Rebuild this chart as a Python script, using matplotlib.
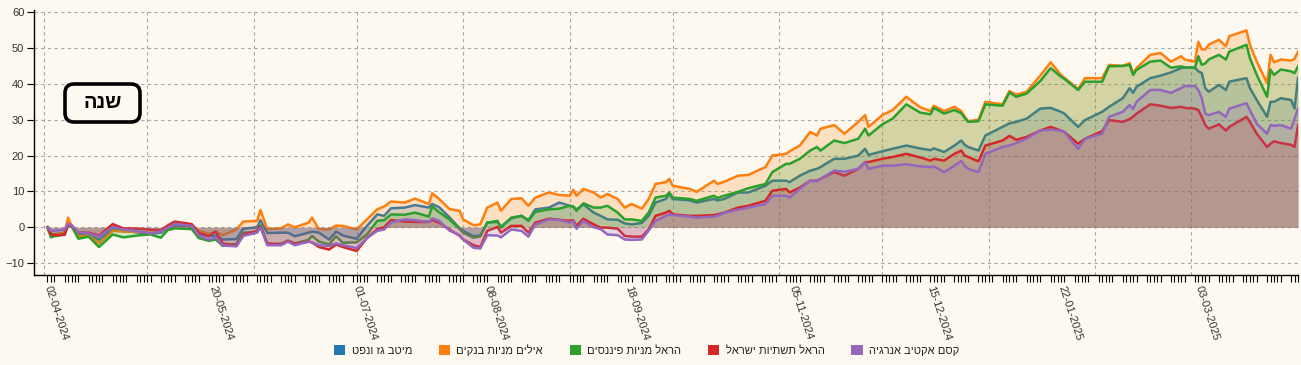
import matplotlib
matplotlib.use('Agg')
import matplotlib.pyplot as plt
import matplotlib.dates as mdates
from matplotlib.patches import Patch, FancyBboxPatch
from matplotlib.transforms import IdentityTransform
from matplotlib.ticker import FixedLocator
import pandas as pd

plt.rcParams['font.family'] = ['Liberation Sans', 'DejaVu Sans']

# ---------------- data ----------------
dates = [
    '2024-04-02', '2024-04-03', '2024-04-04', '2024-04-07', '2024-04-08', '2024-04-09', '2024-04-11',
    '2024-04-14', '2024-04-17', '2024-04-21', '2024-04-24', '2024-04-29', '2024-05-02', '2024-05-05',
    '2024-05-07', '2024-05-09', '2024-05-14', '2024-05-16', '2024-05-19', '2024-05-21', '2024-05-23',
    '2024-05-27', '2024-05-29', '2024-06-02', '2024-06-03', '2024-06-05', '2024-06-09', '2024-06-11',
    '2024-06-13', '2024-06-17', '2024-06-18', '2024-06-20', '2024-06-23', '2024-06-25', '2024-06-27',
    '2024-07-01', '2024-07-04', '2024-07-07', '2024-07-09', '2024-07-11', '2024-07-15', '2024-07-18',
    '2024-07-22', '2024-07-23', '2024-07-25', '2024-07-28', '2024-07-31', '2024-08-01', '2024-08-04',
    '2024-08-06', '2024-08-08', '2024-08-11', '2024-08-12', '2024-08-15', '2024-08-18', '2024-08-20',
    '2024-08-22', '2024-08-26', '2024-08-29', '2024-09-01', '2024-09-02', '2024-09-03', '2024-09-05',
    '2024-09-08', '2024-09-10', '2024-09-12', '2024-09-15', '2024-09-17', '2024-09-19', '2024-09-22',
    '2024-09-24', '2024-09-26', '2024-09-29', '2024-09-30', '2024-10-01', '2024-10-06', '2024-10-08',
    '2024-10-13', '2024-10-14', '2024-10-16', '2024-10-20', '2024-10-23', '2024-10-28', '2024-10-30',
    '2024-11-03', '2024-11-04', '2024-11-07', '2024-11-10', '2024-11-12', '2024-11-13', '2024-11-17',
    '2024-11-20', '2024-11-24', '2024-11-26', '2024-11-27', '2024-12-01', '2024-12-04', '2024-12-08',
    '2024-12-12', '2024-12-15', '2024-12-16', '2024-12-19', '2024-12-22', '2024-12-24', '2024-12-25',
    '2024-12-26', '2024-12-29', '2024-12-31', '2025-01-05', '2025-01-07', '2025-01-09', '2025-01-12',
    '2025-01-16', '2025-01-19', '2025-01-22', '2025-01-23', '2025-01-27', '2025-01-29', '2025-02-03',
    '2025-02-05', '2025-02-09', '2025-02-11', '2025-02-12', '2025-02-13', '2025-02-17', '2025-02-20',
    '2025-02-23', '2025-02-26', '2025-02-27', '2025-03-02', '2025-03-03', '2025-03-04', '2025-03-05',
    '2025-03-06', '2025-03-09', '2025-03-11', '2025-03-12', '2025-03-17', '2025-03-18', '2025-03-20',
    '2025-03-23', '2025-03-24', '2025-03-25', '2025-03-27', '2025-03-30', '2025-03-31', '2025-04-01',
]

series_names = ['מיטב גז ונפט', 'אילים מניות בנקים', 'הראל מניות פיננסים',
                'הראל תשתיות ישראל', 'קסם אקטיב אנרגיה']

meitav_gas = [
    0, -1.8, -2, -1.5, 0.8, 0.5, -2, -1.9, -3.5, -0.5, -1, -1.5, -1.8, -1.5,
    -0.4, 0.5, 0.3, -1.8, -2.5, -2.3, -3.4, -3.3, -0.4, 0, 2, -1.6, -1.5, -1.5,
    -2.5, -1.5, -1.2, -1.5, -3.4, -1.2, -2.3, -3.2, 0.4, 3.6, 3.2, 5.3, 5.5, 6.2,
    5.5, 6.5, 5.6, 2.8, -0.3, -1, -2.5, -2.3, 1.3, 1.5, 0.2, 2.5, 3.2, 2,
    5, 5.5, 6.9, 6, 5.8, 5, 6.4, 4.1, 3.2, 2.2, 2.1, 1.1, 0.8, 1.2,
    3.2, 6.9, 7.9, 9.3, 7.9, 7.5, 6.9, 7.9, 7.5, 7.9, 9.7, 9.7, 11.6, 13,
    13, 12.6, 14.4, 15.8, 16.3, 16.8, 19.1, 19.1, 20, 21.9, 20.2, 21.2, 21.9, 22.8,
    22, 21.5, 22, 21, 22.8, 24.2, 23, 22.4, 21.4, 25.6, 28, 29, 29.4, 30.3,
    33.1, 33.3, 32.2, 31.7, 28, 29.9, 32.2, 33.6, 36, 38.8, 37.5, 39.2, 41.6, 42.3,
    43.2, 44.4, 44.6, 44.5, 43.5, 43, 38.8, 37.8, 39.7, 38.3, 40.6, 41.6, 38.8, 35.5,
    30.8, 35, 35, 36, 35.5, 33.1, 41.6,
]

ayalim_banks = [
    0, -2, -2.2, -1.5, 2.7, 0.5, -2.5, -2.3, -4.5, -1, -1.2, -1.3, -1.5, -1.2,
    -0.2, 1.2, 0.6, -1, -1.8, -1.2, -2.2, -0.6, 1.6, 1.8, 4.8, -0.5, -0.3, 0.8,
    0, 1.3, 2.7, -0.5, -0.6, 0.5, 0.4, -0.6, 2.2, 5, 5.8, 7.2, 6.9, 8,
    6.5, 9.5, 7.9, 5.1, 4.6, 2.2, 0.6, 0.8, 5.5, 6.9, 4.6, 7.9, 8.1, 6,
    8.3, 9.7, 9, 8.8, 10.5, 8.8, 10.7, 9.7, 8.3, 9.3, 7.9, 5.5, 6.5, 5.2,
    7.9, 12.1, 12.6, 13.5, 11.6, 10.7, 9.9, 13, 12.1, 12.7, 14.4, 14.6, 16.8, 20,
    20.5, 21.2, 22.8, 26.6, 25.6, 27.5, 28.5, 26.1, 29.4, 31.3, 28, 31.3, 32.7, 36.4,
    33.5, 32.4, 33.9, 32.4, 33.6, 32.4, 30.8, 29.6, 30, 35, 34.3, 38, 37, 37.8,
    42.3, 46, 42.5, 41.7, 38.6, 41.6, 41.6, 45.3, 45, 45.8, 43, 44.4, 48.1, 48.6,
    46.2, 47.7, 46.8, 46.2, 51.7, 49.6, 49.6, 50.9, 52.3, 50.5, 53.3, 54.9, 50.9, 46.2,
    40.2, 48.1, 46, 46.8, 46.5, 47, 49,
]

harel_finance = [
    0, -2.8, -2.5, -2, 1, 0.3, -3.2, -2.6, -5.5, -2, -2.8, -2.2, -2, -2.9,
    -0.8, -0.3, -0.5, -3, -3.8, -3.4, -5.2, -4.6, -1.5, -1.3, 0.5, -4.8, -4.6, -3.8,
    -4.5, -3.5, -2.4, -4, -4.8, -2.5, -4.3, -4.2, -2, 1.8, 2, 3.6, 3.5, 4.1,
    3, 5.8, 4.2, 2.2, -0.5, -1.5, -2.9, -2.5, 1.3, 1.8, -0.1, 2.7, 3.2, 1.8,
    4.3, 5, 5.2, 6, 5.8, 4.6, 6.7, 5.5, 5.5, 6, 4.1, 2.2, 2.2, 1.8,
    4.1, 8.3, 8.8, 9.7, 8.3, 7.9, 7.4, 8.8, 8.2, 8.8, 9.9, 10.9, 12.1, 15.4,
    17.7, 17.7, 19.1, 21.4, 22.4, 21.4, 24.2, 23.5, 24.7, 27.5, 25.6, 28.7, 30.3, 34.3,
    32, 31.5, 33.3, 31.7, 32.7, 31.8, 30.5, 29.4, 29.6, 34.3, 33.9, 37.6, 36.4, 37.3,
    40.8, 44.4, 42, 41.4, 38.3, 40.6, 40.6, 44.9, 45, 45.3, 42.5, 43.9, 46.2, 46.5,
    44.5, 44.9, 44.6, 44.5, 47.7, 45.3, 45.7, 46.8, 48.1, 46.8, 49, 50.9, 47.2, 42.5,
    36.4, 44, 42.5, 44, 43.5, 43, 44.9,
]

harel_infra = [
    0, -2, -2.2, -2.1, 0.6, 0.5, -1.5, -1.5, -2.3, 0.9, -0.3, -0.4, -0.7, -0.8,
    0.5, 1.6, 0.9, -1.5, -2.5, -1.2, -4.5, -5, -2, -1, 0.3, -4.5, -4.7, -3.7,
    -4.6, -4, -4.2, -5.5, -6.2, -4.8, -5.5, -6.6, -3, -0.5, 0, 2, 1.6, 1.5,
    1.5, 2, 1.3, -0.6, -2.4, -3.4, -5, -5.5, -1, 0.1, -1.5, 0.4, 0.4, -1.5,
    1.3, 2.4, 2.1, 1.8, 2, 0.4, 2.4, 0.8, -0.1, -0.1, -0.4, -2.4, -2.6, -2.6,
    -0.6, 3.2, 4.1, 4.6, 3.6, 3.2, 3.2, 3.4, 3.6, 4.1, 5.5, 6, 7.4, 10.2,
    10.7, 9.7, 11.1, 13, 13, 13.5, 15.4, 14.4, 16.3, 18.2, 18.2, 19.1, 19.6, 20.5,
    19.5, 18.6, 19.1, 18.6, 20.5, 21.4, 20, 19.6, 18.4, 22.8, 24.2, 25.5, 24.4, 25.2,
    27, 28, 27, 26.6, 23.3, 24.7, 26.8, 29.9, 29.4, 30.2, 30.8, 31.7, 34.3, 33.9,
    33.3, 33.6, 33.3, 33.1, 32.7, 30.8, 28.5, 27.5, 28.7, 27, 28, 30.8, 29.4, 26.1,
    22.4, 23.3, 24, 23.5, 23, 22.4, 28.5,
]

kesem_energy = [
    0, -0.9, -1, -0.6, 1, 0.6, -1.4, -1.7, -2.6, 0.1, -0.6, -1.2, -1.7, -1.2,
    -0.1, 1, 0.4, -2.3, -3.5, -2.8, -5.1, -5.3, -2.4, -1.5, 0, -5, -5, -4,
    -5, -4, -4.2, -5, -5.2, -4.5, -5, -5.8, -3, -1, -0.6, 1.4, 2.2, 2,
    1.5, 2.5, 1.8, -0.9, -2.2, -3.4, -5.7, -5.9, -2.2, -2.3, -2.8, -0.6, -1, -2.6,
    0.8, 2.2, 2.1, 1.3, 1.8, -0.4, 1.8, 0, -0.5, -2, -2.2, -3.4, -3.5, -3.4,
    -0.9, 1.8, 3.2, 3.6, 3.4, 3, 2.7, 3, 3.2, 4.1, 4.9, 5.5, 6.5, 8.8,
    8.8, 8.3, 10.7, 13, 12.8, 13.5, 15.8, 15.5, 16.3, 18.2, 16.3, 17.2, 17.2, 17.6,
    17, 16.8, 17, 15.4, 17.2, 18.5, 17.2, 16.3, 15.4, 20.5, 22.4, 22.8, 23.5, 24.7,
    27, 27.2, 27, 26.6, 21.9, 24.7, 26.1, 30.8, 32.2, 34.1, 33, 35, 38.3, 38.3,
    37.5, 38.8, 39.4, 39.4, 38.3, 36, 31.7, 31.3, 32.2, 30.8, 33.1, 34.6, 32.7, 28.9,
    26.1, 28.5, 28.3, 28.5, 27.5, 30.3, 33.1,
]

label_dates = ['2024-04-02', '2024-05-20', '2024-07-01', '2024-08-08', '2024-09-18',
               '2024-11-05', '2024-12-15', '2025-01-22', '2025-03-03']

box_label = 'שנה'

# ---------------- style ----------------
BG = '#fdf9f0'
GRID = '#a8a8a8'
colors = ['#1f77b4', '#ff7f0e', '#2ca02c', '#d62728', '#9467bd']


def vis(s):
    # matplotlib has no bidi support: reverse RTL text for display
    return s[::-1]


W, H = 1301, 365
fig = plt.figure(figsize=(W / 100, H / 100), dpi=100, facecolor=BG)
ax = fig.add_axes([34 / W, 1 - 275 / H, (1298 - 34) / W, (275 - 10) / H])
ax.set_facecolor(BG)

x = pd.to_datetime(dates, format='%Y-%m-%d')
all_series = [meitav_gas, ayalim_banks, harel_finance, harel_infra, kesem_energy]
for vals, c in zip(all_series, colors):
    # same zorder for fills and lines -> drawn in insertion order
    ax.fill_between(x, 0, vals, color=c, alpha=0.2, lw=0, zorder=2)
    ax.plot(x, vals, color=c, lw=1.8, zorder=2, solid_joinstyle='round')

x0 = pd.Timestamp('2024-03-29 02:00')
x1 = pd.Timestamp('2025-04-01')
ax.set_xlim(x0, x1)
ax.set_ylim(-13.3, 60.6)

# grid
ax.set_yticks(range(-10, 61, 10))
ax.yaxis.grid(True, color=GRID, ls=(0, (3, 3)), lw=0.8, zorder=1)
ax.set_axisbelow(True)
for m in pd.date_range('2024-04-01', '2025-04-01', freq='MS'):
    ax.axvline(m, color=GRID, ls=(0, (3, 3)), lw=0.8, zorder=1)

# x ticks
trading_days = pd.bdate_range('2024-04-02', '2025-04-01', freq='C',
                              weekmask='Sun Mon Tue Wed Thu')
ax.xaxis.set_minor_locator(FixedLocator(mdates.date2num(trading_days)))
ax.xaxis.set_major_locator(FixedLocator(mdates.date2num(pd.to_datetime(label_dates))))
ax.xaxis.set_major_formatter(mdates.DateFormatter('%d-%m-%Y'))
ax.tick_params(axis='x', which='both', direction='out', length=5, width=0.8,
               color='black', labelsize=8, labelcolor='#333333', pad=3)
for lab in ax.get_xticklabels():
    lab.set_rotation(-72)
    lab.set_ha('left')
    lab.set_va('center')
    lab.set_rotation_mode('anchor')

ax.tick_params(axis='y', direction='out', length=5, width=0.8, color='black',
               labelsize=8, labelcolor='#333333', pad=2)

for s in ['top', 'right']:
    ax.spines[s].set_visible(False)
for s in ['left', 'bottom']:
    ax.spines[s].set_color('black')
    ax.spines[s].set_linewidth(1)

# legend
handles = [Patch(facecolor=c, edgecolor='none') for c in colors]
fig.legend(handles, [vis(n) for n in series_names], loc='center',
           bbox_to_anchor=(0.497, 1 - 350 / H), ncol=5, frameon=False,
           fontsize=8, handlelength=1.0, handleheight=1.0, handletextpad=0.6,
           columnspacing=2.4, labelcolor='#222222')

# "year" badge
badge = FancyBboxPatch((65, H - 122), 75, 38, boxstyle='round,pad=0,rounding_size=9',
                       transform=IdentityTransform(), fc=BG, ec='black', lw=2.6,
                       zorder=10)
fig.add_artist(badge)
fig.text(102.5 / W, 1 - 103 / H, vis(box_label), ha='center', va='center',
         fontsize=14.5, fontweight='bold', color='black', zorder=11)

fig.savefig('out.png', dpi=100, facecolor=BG)
